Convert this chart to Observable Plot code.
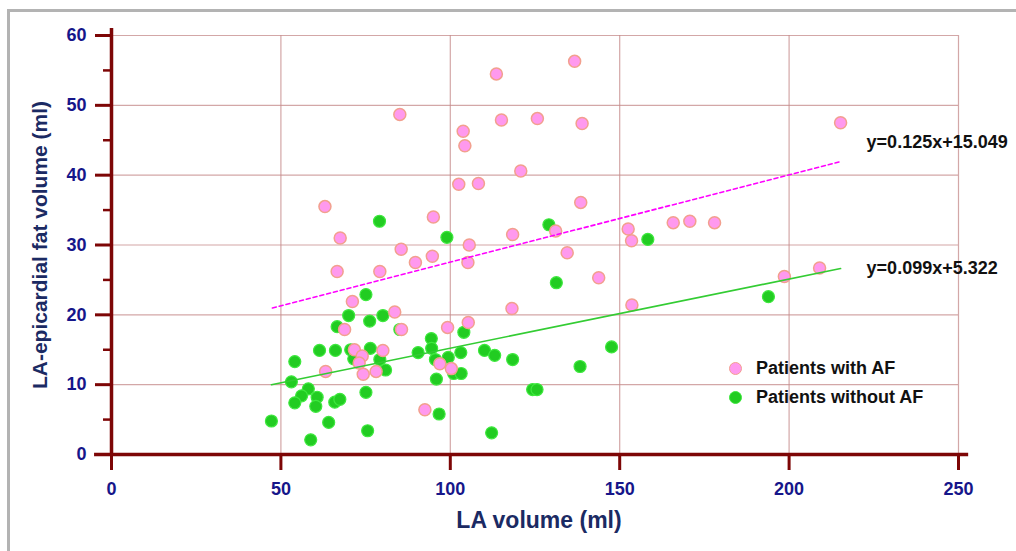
<!DOCTYPE html>
<html>
<head>
<meta charset="utf-8">
<script src="https://cdn.jsdelivr.net/npm/d3@7"></script>
<script src="https://cdn.jsdelivr.net/npm/@observablehq/plot@0.6"></script>
<style>
  html, body { margin: 0; padding: 0; background: #fff; overflow: hidden; }
  #wrap { position: relative; width: 1016px; height: 551px; overflow: hidden; font-family: "Liberation Sans", Arial, sans-serif; }
  #frame { position: absolute; left: 7px; top: 9px; width: 3000px; height: 3000px; border-left: 3px solid #b3b3b3; border-top: 3px solid #b3b3b3; }
  #chart { position: absolute; left: 0; top: 0; }
  .leg { position: absolute; left: 729px; display: flex; align-items: center; font-weight: bold; font-size: 18px; color: #111; }
  .leg .dot { width: 11px; height: 11px; border-radius: 50%; margin-right: 14px; }
</style>
</head>
<body>
<div id="wrap">
  <div id="frame"></div>
  <div id="chart"></div>
  <div class="leg" style="top:358px"><span class="dot" style="background:#ff99ee;border:1.5px solid #f2a08e"></span><span>Patients with AF</span></div>
  <div class="leg" style="top:387px"><span class="dot" style="background:#22cc22;border:1.5px solid #3ee83e"></span><span>Patients without AF</span></div>
</div>
<script>
// Patients with AF (LA volume ml, LA-epicardial fat volume ml)
const afX = [136.7,113.6,85.1,115.1,125.7,138.9,215.2,103.8,104.3,120.8,108.3,102.5,63.0,138.5,95.0,165.8,170.7,178.0,152.5,153.5,131.1,118.4,67.5,105.6,85.5,134.5,94.7,89.7,105.2,66.6,79.2,143.8,198.6,209.0,71.1,83.6,118.2,153.6,68.8,85.6,99.2,105.3,71.7,74.0,80.1,73.1,63.2,74.3,78.1,96.9,100.3,92.5];
const afY = [56.3,54.5,48.7,47.9,48.1,47.4,47.5,46.3,44.2,40.6,38.8,38.7,35.5,36.1,34.0,33.2,33.4,33.2,32.3,30.6,32.0,31.5,31.0,30.0,29.4,28.9,28.4,27.5,27.5,26.2,26.2,25.3,25.5,26.7,21.9,20.4,20.9,21.4,17.9,17.9,18.2,18.9,15.0,14.1,14.9,13.1,11.9,11.5,11.9,13.0,12.3,6.4];
// Patients without AF
const noX = [79.1,99.0,129.1,131.3,158.3,193.9,75.1,70.0,76.2,80.1,66.6,85.1,94.4,104.0,147.6,61.4,66.1,70.6,71.5,76.4,79.2,80.9,90.5,94.5,95.6,99.4,103.1,110.1,113.1,118.4,138.3,54.1,53.1,58.1,56.1,54.1,60.7,60.3,65.9,67.4,75.1,95.9,101.0,103.2,96.7,47.2,64.1,75.6,58.8,112.2,124.3,125.6];
const noY = [33.4,31.1,32.9,24.6,30.8,22.6,22.9,19.9,19.1,19.9,18.3,17.9,16.6,17.5,15.4,14.9,14.9,15.0,13.7,15.2,13.6,12.1,14.6,15.2,13.6,13.9,14.6,14.9,14.2,13.6,12.6,13.3,10.4,9.4,8.4,7.4,8.2,6.9,7.5,7.9,8.9,10.8,11.6,11.6,5.8,4.8,4.6,3.4,2.1,3.1,9.3,9.3];

// Regression fits as printed on the chart
const fitGroups = ["AF", "noAF"];
const fitSlopes = [0.125, 0.099];
const fitIntercepts = [15.049, 5.322];
const fitStart = [47.5, 47.2];
const fitEnd = [215.2, 215.2];
const fitLabels = ["y=0.125x+15.049", "y=0.099x+5.322"];

const xTicks = [0, 50, 100, 150, 200, 250];
const yTicks = [0, 10, 20, 30, 40, 50, 60];
const yMinorTicks = [5, 15, 25, 35, 45, 55];
const xTitle = "LA volume (ml)";
const yTitle = "LA-epicardial fat volume (ml)";

const af = afX.map((x, i) => ({x, y: afY[i]}));
const noAf = noX.map((x, i) => ({x, y: noY[i]}));
const fitPts = [];
fitGroups.forEach((g, i) => {
  [fitStart[i], fitEnd[i]].forEach(x => fitPts.push({g, x, y: fitSlopes[i] * x + fitIntercepts[i]}));
});
const fitEnds = fitGroups.map((g, i) => ({g, x: fitEnd[i], y: fitSlopes[i] * fitEnd[i] + fitIntercepts[i], label: fitLabels[i]}));

const axisRed = "#7d0606";
const tickBlue = "#16168a";
const titleBlue = "#1b2a63";
const gridCol = "#c48a8a";
const font = "Liberation Sans, Arial, sans-serif";

const chart = Plot.plot({
  width: 1016,
  height: 551,
  marginLeft: 111,
  marginRight: 58,
  marginTop: 35,
  marginBottom: 97,
  style: {fontFamily: font, background: "transparent", overflow: "visible"},
  x: {domain: [0, 250]},
  y: {domain: [0, 60]},
  marks: [
    Plot.gridX(xTicks.filter(d => d > 0), {stroke: gridCol, strokeOpacity: 0.75, strokeWidth: 1.2}),
    Plot.gridY(yTicks.filter(d => d > 0), {stroke: gridCol, strokeOpacity: 0.75, strokeWidth: 1.2}),
    Plot.dot(noAf, {x: "x", y: "y", r: 6, fill: "#22cc22", stroke: "#3ee83e", strokeWidth: 1.2}),
    Plot.dot(af, {x: "x", y: "y", r: 6, fill: "#ff99ee", stroke: "#f2a08e", strokeWidth: 1.5}),
    Plot.line(fitPts.filter(d => d.g === "AF"), {x: "x", y: "y", stroke: "#ff00ff", strokeWidth: 1.6, strokeDasharray: "4,3"}),
    Plot.line(fitPts.filter(d => d.g === "noAF"), {x: "x", y: "y", stroke: "#33cc33", strokeWidth: 1.6}),
    Plot.text(fitEnds.filter(d => d.g === "AF"), {x: "x", y: "y", text: "label", textAnchor: "start", dx: 26, dy: -19, fontSize: 18, fontWeight: "bold", fill: "#111"}),
    Plot.text(fitEnds.filter(d => d.g === "noAF"), {x: "x", y: "y", text: "label", textAnchor: "start", dx: 26, dy: 0, fontSize: 18, fontWeight: "bold", fill: "#111"}),
    Plot.axisX({ticks: xTicks, tickSize: 16, tickPadding: 12, stroke: axisRed, strokeWidth: 3, fill: tickBlue, fontSize: 18, fontWeight: "bold", label: null}),
    Plot.axisY({ticks: yTicks, tickSize: 16, tickPadding: 9, stroke: axisRed, strokeWidth: 3, fill: tickBlue, fontSize: 18, fontWeight: "bold", label: null}),
    Plot.axisY({ticks: yMinorTicks, tickSize: 8, stroke: axisRed, strokeWidth: 2.5, tickFormat: () => "", label: null}),
    Plot.ruleX([0], {y1: 0, y2: 61, stroke: axisRed, strokeWidth: 3.5}),
    Plot.ruleY([0], {x1: -5, x2: 253, stroke: axisRed, strokeWidth: 3.5}),
    Plot.text([xTitle], {frameAnchor: "bottom", dx: 4, dy: 73, fontSize: 23, fontWeight: "bold", fill: titleBlue}),
    Plot.text([yTitle], {frameAnchor: "left", textAnchor: "middle", rotate: -90, dx: -71, fontSize: 21, fontWeight: "bold", fill: titleBlue})
  ]
});
document.getElementById("chart").appendChild(chart);
</script>
</body>
</html>
